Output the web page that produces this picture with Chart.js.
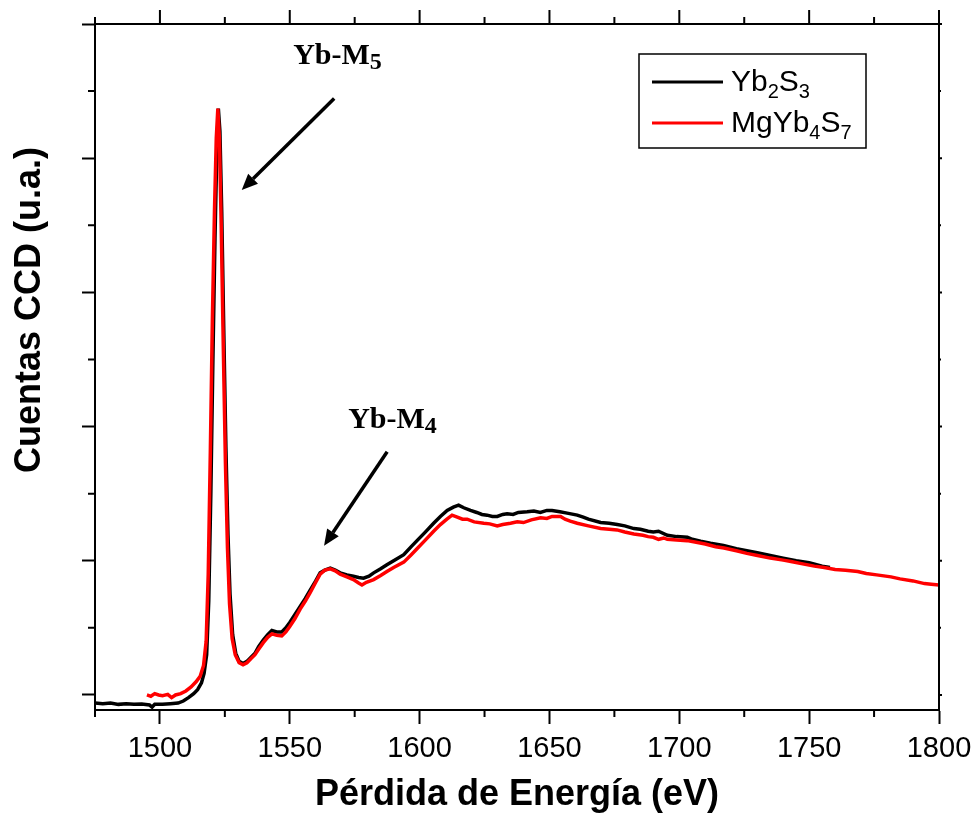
<!DOCTYPE html>
<html>
<head>
<meta charset="utf-8">
<script src="https://cdn.jsdelivr.net/npm/chart.js@4.4.0/dist/chart.umd.min.js"></script>
<style>
  html, body { margin: 0; padding: 0; background: #fff; }
  canvas { display: block; }
</style>
</head>
<body>
<canvas id="eels" width="975" height="817"></canvas>
<script>
// EELS Yb-M4,5 — Yb2S3 vs MgYb4S7
const X_MIN = 1475, X_MAX = 1800;
const Y_MIN = -0.112, Y_MAX = 5.0;
const X_TICKS = [1500, 1550, 1600, 1650, 1700, 1750, 1800];
const X_MINOR = [1475, 1525, 1575, 1625, 1675, 1725, 1775];
const Y_TICKS = [0, 1, 2, 3, 4, 5];
const Y_MINOR = [0.5, 1.5, 2.5, 3.5, 4.5];

// Yb2S3 (negro)
const ybEnergy = [
  1475, 1478, 1481, 1484, 1487, 1490, 1493, 1496, 1497, 1498, 1501, 1504, 1507, 1509, 1511, 1513,
  1514.5, 1516, 1517, 1518, 1518.8, 1519.6, 1520.4, 1521.2, 1521.9, 1522.5, 1523.1, 1523.8, 1524.6,
  1525.4, 1526.2, 1527, 1528, 1529.2, 1530.5, 1532, 1533.5, 1535, 1536.6, 1538, 1539.8, 1541.5,
  1543.1, 1545, 1546.9, 1548.5, 1550, 1552, 1554, 1556, 1557.8, 1560, 1561.7, 1563.5, 1565.6,
  1567.5, 1569.4, 1572, 1574.5, 1576.5, 1578.4, 1580.5, 1582.3, 1585, 1587.4, 1590, 1593.9, 1596.5,
  1599, 1602, 1605.4, 1608, 1610.6, 1613, 1615, 1617, 1619.6, 1622, 1624, 1626, 1628, 1629.9, 1632,
  1633.7, 1636, 1638, 1641.4, 1644, 1646.5, 1649, 1651, 1654, 1656.8, 1660.7, 1663, 1665, 1669.7,
  1673, 1676.1, 1679, 1682.5, 1685, 1688, 1690, 1692, 1695.4, 1699, 1703.1, 1705, 1708.2, 1712,
  1717, 1722, 1726, 1730, 1735, 1740, 1745, 1750, 1755, 1758
];
const ybCounts = [
  -0.06, -0.065, -0.06, -0.07, -0.065, -0.07, -0.068, -0.075, -0.09, -0.07, -0.07, -0.065, -0.06, -0.045, -0.02, 0.01,
  0.04, 0.09, 0.16, 0.3, 0.7, 1.5, 2.5, 3.4, 4.05, 4.37, 4.2, 3.6, 2.7,
  1.85, 1.2, 0.75, 0.45, 0.31, 0.25, 0.235, 0.25, 0.28, 0.31, 0.36, 0.41, 0.45,
  0.48, 0.47, 0.47, 0.5, 0.54, 0.6, 0.66, 0.72, 0.78, 0.85, 0.91, 0.93, 0.945,
  0.93, 0.91, 0.895, 0.885, 0.875, 0.87, 0.885, 0.91, 0.94, 0.97, 1.0, 1.045, 1.1,
  1.15, 1.21, 1.28, 1.33, 1.375, 1.4, 1.415, 1.395, 1.375, 1.36, 1.345, 1.34, 1.33, 1.33, 1.345,
  1.35, 1.345, 1.36, 1.365, 1.37, 1.36, 1.375, 1.375, 1.365, 1.355, 1.34, 1.325, 1.31, 1.285,
  1.28, 1.27, 1.26, 1.24, 1.235, 1.22, 1.215, 1.22, 1.19, 1.18, 1.175, 1.16, 1.145, 1.13,
  1.115, 1.09, 1.075, 1.06, 1.04, 1.02, 1.0, 0.985, 0.96, 0.95
];

// MgYb4S7 (rojo)
const mgEnergy = [
  1495, 1496.5, 1498, 1499.5, 1501, 1503, 1504.5, 1506, 1508, 1510, 1512, 1514, 1515.5, 1516.8,
  1517.8, 1518.6, 1519.4, 1520.2, 1521, 1521.7, 1522.3, 1522.9, 1523.6, 1524.4, 1525.2, 1526,
  1526.8, 1527.8, 1529, 1530.5, 1532, 1533.5, 1535, 1536.6, 1538, 1539.8, 1541.5, 1543.1, 1545,
  1546.9, 1548.5, 1550, 1552, 1554, 1556, 1557.8, 1560, 1561.7, 1563.5, 1565.6, 1567.5, 1569.4,
  1572, 1574.5, 1576.5, 1577.8, 1579.5, 1582.3, 1585, 1587.4, 1590, 1593.9, 1596.5, 1599, 1602,
  1605.4, 1608, 1610.5, 1612.5, 1614.5, 1616.5, 1618.3, 1621, 1624.7, 1627, 1629.9, 1632, 1635,
  1637.6, 1640, 1643, 1646.6, 1649, 1651, 1654.3, 1656, 1658, 1660.7, 1665, 1669.7, 1673, 1676,
  1679, 1682.5, 1686, 1688, 1690, 1692, 1694, 1695.4, 1699, 1703, 1706, 1710, 1714, 1717.2, 1722,
  1726, 1730.1, 1735, 1740, 1743, 1748, 1752, 1755.8, 1760, 1764, 1768.7, 1772, 1776, 1781.5,
  1785, 1790, 1794.4, 1797, 1800
];
const mgCounts = [
  0.0, -0.01, 0.01, 0.0, -0.005, 0.005, -0.02, 0.0, 0.01, 0.03, 0.06, 0.1, 0.14, 0.22,
  0.4, 0.9, 1.8, 2.8, 3.6, 4.15, 4.37, 4.15, 3.5, 2.6, 1.75, 1.1,
  0.68, 0.42, 0.3, 0.24, 0.225, 0.24, 0.27, 0.3, 0.34, 0.39, 0.43, 0.455, 0.445,
  0.44, 0.47, 0.51, 0.57, 0.64, 0.7, 0.76, 0.84, 0.9, 0.93, 0.94, 0.925, 0.9,
  0.88, 0.86, 0.835, 0.82, 0.84, 0.86, 0.89, 0.92, 0.95, 0.99, 1.04, 1.09, 1.15,
  1.22, 1.27, 1.31, 1.34, 1.325, 1.31, 1.31, 1.29, 1.28, 1.275, 1.26, 1.27, 1.28,
  1.29, 1.285, 1.305, 1.32, 1.315, 1.33, 1.33, 1.31, 1.295, 1.28, 1.26, 1.24, 1.235, 1.23,
  1.215, 1.2, 1.19, 1.18, 1.175, 1.16, 1.17, 1.16, 1.155, 1.15, 1.14, 1.125, 1.105, 1.095, 1.075,
  1.055, 1.04, 1.02, 1.005, 0.995, 0.975, 0.96, 0.95, 0.935, 0.93, 0.92, 0.905, 0.895, 0.88,
  0.865, 0.85, 0.83, 0.825, 0.82
];

const SANS = "'Liberation Sans', Arial, sans-serif";
const SERIF = "'Liberation Serif', 'Times New Roman', serif";

// etiquetas de picos (coordenadas de datos)
const PEAKS = [
  { sub: '5', x: 1551.3, y: 4.70, from: [1567.1, 4.445], to: [1531.5, 3.763] },
  { sub: '4', x: 1572.5, y: 1.99, from: [1587.5, 1.813], to: [1563.2, 1.112] },
];

const LEGEND = [
  { color: '#000000', parts: [['Yb'], ['2', 1], ['S'], ['3', 1]] },
  { color: '#ff0000', parts: [['MgYb'], ['4', 1], ['S'], ['7', 1]] },
];

// texto con subíndices: parts = [[texto, esSub], ...]
function richText(ctx, parts, x, y, size, subSize, drop, family, weight) {
  let cx = x;
  parts.forEach(([t, sub]) => {
    ctx.font = `${weight} ${sub ? subSize : size}px ${family}`;
    ctx.fillText(t, cx, sub ? y + drop : y);
    cx += ctx.measureText(t).width;
  });
}

function arrow(ctx, x1, y1, x2, y2) {
  const ang = Math.atan2(y2 - y1, x2 - x1);
  const len = 16, half = 7;
  const bx = x2 - len * Math.cos(ang), by = y2 - len * Math.sin(ang);
  ctx.beginPath();
  ctx.moveTo(x1, y1);
  ctx.lineTo(bx, by);
  ctx.stroke();
  ctx.beginPath();
  ctx.moveTo(x2, y2);
  ctx.lineTo(bx + half * Math.sin(ang), by - half * Math.cos(ang));
  ctx.lineTo(bx - half * Math.sin(ang), by + half * Math.cos(ang));
  ctx.closePath();
  ctx.fill();
}

const framePlugin = {
  id: 'frame',
  afterDraw(chart) {
    const { ctx, chartArea: a, scales: { x, y } } = chart;
    ctx.save();
    ctx.strokeStyle = '#000';
    ctx.fillStyle = '#000';
    ctx.lineWidth = 2;

    // marco superior / derecho y ticks menores
    ctx.beginPath();
    ctx.moveTo(a.left - 1, a.top);
    ctx.lineTo(a.right, a.top);
    ctx.lineTo(a.right, a.bottom + 1);
    X_TICKS.forEach((v) => {
      const px = x.getPixelForValue(v);
      ctx.moveTo(px, a.top); ctx.lineTo(px, a.top - 14);
    });
    X_MINOR.forEach((v) => {
      const px = x.getPixelForValue(v);
      ctx.moveTo(px, a.top); ctx.lineTo(px, a.top - 7);
      ctx.moveTo(px, a.bottom); ctx.lineTo(px, a.bottom + 7);
    });
    Y_MINOR.forEach((v) => {
      const py = y.getPixelForValue(v);
      ctx.moveTo(a.left, py); ctx.lineTo(a.left - 7, py);
      ctx.moveTo(a.right, py); ctx.lineTo(a.right + 2, py);
    });
    Y_TICKS.forEach((v) => {
      const py = y.getPixelForValue(v);
      ctx.moveTo(a.right, py); ctx.lineTo(a.right + 3, py);
    });
    ctx.stroke();

    // título eje Y
    ctx.save();
    ctx.translate(30, 310);
    ctx.rotate(-Math.PI / 2);
    ctx.font = `bold 36px ${SANS}`;
    ctx.textAlign = 'center';
    ctx.textBaseline = 'middle';
    ctx.fillText('Cuentas CCD (u.a.)', 0, 0);
    ctx.restore();

    // etiquetas y flechas de picos
    ctx.textBaseline = 'alphabetic';
    ctx.textAlign = 'left';
    ctx.lineWidth = 3.5;
    PEAKS.forEach((p) => {
      richText(ctx, [['Yb-M'], [p.sub, 1]], x.getPixelForValue(p.x), y.getPixelForValue(p.y),
        30, 24, 5, SERIF, 'bold');
      arrow(ctx,
        x.getPixelForValue(p.from[0]), y.getPixelForValue(p.from[1]),
        x.getPixelForValue(p.to[0]), y.getPixelForValue(p.to[1]));
    });

    // leyenda
    const lx = 639, ly = 54, lw = 227, lh = 94;
    ctx.lineWidth = 1.5;
    ctx.fillStyle = '#fff';
    ctx.fillRect(lx, ly, lw, lh);
    ctx.strokeRect(lx, ly, lw, lh);
    LEGEND.forEach((item, i) => {
      const rowY = 82 + i * 41;
      ctx.strokeStyle = item.color;
      ctx.lineWidth = 3;
      ctx.beginPath();
      ctx.moveTo(652, rowY); ctx.lineTo(723, rowY);
      ctx.stroke();
      ctx.fillStyle = '#000';
      richText(ctx, item.parts, 731, rowY + 9, 30, 20, 7, SANS, 'normal');
    });
    ctx.restore();
  },
};

const toPoints = (xs, ys) => xs.map((v, i) => ({ x: v, y: ys[i] }));

new Chart(document.getElementById('eels'), {
  type: 'line',
  data: {
    datasets: [
      {
        label: 'Yb2S3',
        data: toPoints(ybEnergy, ybCounts),
        borderColor: '#000000',
        borderWidth: 3.5,
        pointRadius: 0,
        tension: 0,
        order: 1,
      },
      {
        label: 'MgYb4S7',
        data: toPoints(mgEnergy, mgCounts),
        borderColor: '#ff0000',
        borderWidth: 3.5,
        pointRadius: 0,
        tension: 0,
        order: 0,
      },
    ],
  },
  options: {
    responsive: false,
    animation: false,
    events: [],
    layout: { padding: { top: 24, right: 36, left: 0, bottom: 0 } },
    plugins: { legend: { display: false }, tooltip: { enabled: false } },
    scales: {
      x: {
        type: 'linear',
        min: X_MIN,
        max: X_MAX,
        afterBuildTicks: (s) => { s.ticks = X_TICKS.map((v) => ({ value: v })); },
        afterFit: (s) => { s.height = 107; s.paddingRight = 0; s.paddingLeft = 0; },
        border: { display: true, color: '#000', width: 2 },
        grid: { drawOnChartArea: false, drawTicks: true, tickLength: 14, tickWidth: 2, tickColor: '#000' },
        ticks: {
          color: '#000',
          padding: 8,
          maxRotation: 0,
          font: { family: SANS, size: 29 },
          callback: (v) => String(v),
        },
        title: {
          display: true,
          text: 'Pérdida de Energía (eV)',
          color: '#000',
          font: { family: SANS, size: 36, weight: 'bold' },
          padding: { top: 0, bottom: 0 },
        },
      },
      y: {
        type: 'linear',
        min: Y_MIN,
        max: Y_MAX,
        afterBuildTicks: (s) => { s.ticks = Y_TICKS.map((v) => ({ value: v })); },
        afterFit: (s) => { s.width = 95; },
        border: { display: true, color: '#000', width: 2 },
        grid: { drawOnChartArea: false, drawTicks: true, tickLength: 13, tickWidth: 2, tickColor: '#000' },
        ticks: { display: false },
      },
    },
  },
  plugins: [framePlugin],
});
</script>
</body>
</html>
